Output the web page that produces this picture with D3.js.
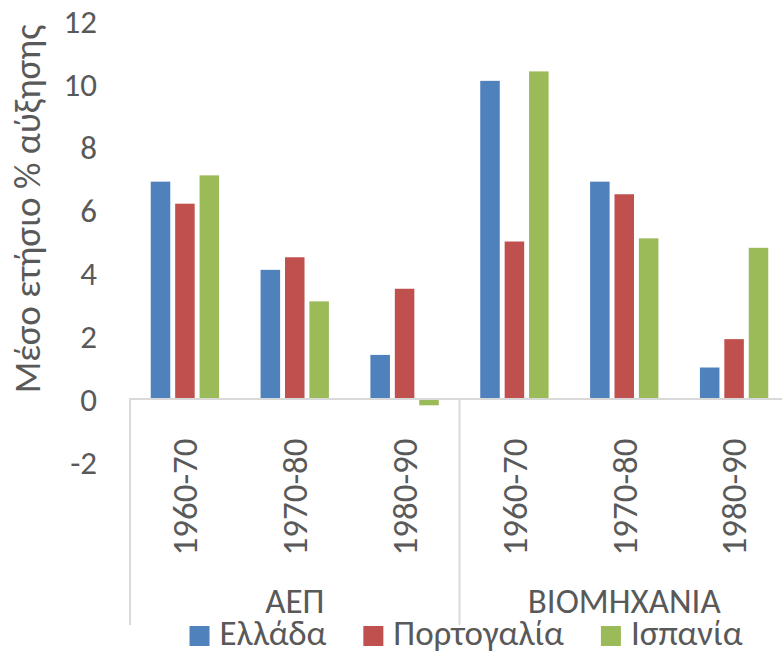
<!DOCTYPE html>
<html>
<head>
<meta charset="utf-8">
<script src="https://cdn.jsdelivr.net/npm/d3@7"></script>
<style>
  body { margin: 0; background: #fff; }
  svg text { font-family: Calibri, Carlito, "Open Sans", sans-serif; fill: #595959; }
</style>
</head>
<body>
<div id="chart"></div>
<script>
// data
var groups = ["ΑΕΠ", "ΒΙΟΜΗΧΑΝΙΑ"];
var periods = ["1960-70", "1970-80", "1980-90"];
var series = ["Ελλάδα", "Πορτογαλία", "Ισπανία"];
var greece   = [6.9, 4.1, 1.4, 10.1, 6.9, 1.0];
var portugal = [6.2, 4.5, 3.5, 5.0, 6.5, 1.9];
var spain    = [7.1, 3.1, -0.2, 10.4, 5.1, 4.8];
var yTicks = [-2, 0, 2, 4, 6, 8, 10, 12];
var colors = ["#4F81BD", "#C0504D", "#9BBB59"];

var width = 782, height = 651;

var svg = d3.select("#chart").append("svg")
    .attr("width", width)
    .attr("height", height);

// one slot per group/period pair
var cats = [];
groups.forEach(function(g) {
  periods.forEach(function(p) { cats.push(g + "|" + p); });
});
var values = [greece, portugal, spain];
var data = cats.map(function(c, i) {
  return { cat: c, vals: series.map(function(s, j) { return { s: s, v: values[j][i], c: colors[j] }; }) };
});

var x0 = d3.scaleBand().domain(cats).range([130, 789]).padding(0);
var x1 = d3.scaleBand().domain(series).range([0, x0.bandwidth()])
    .paddingInner(0.2).paddingOuter(0.85);
var y = d3.scaleLinear().domain([-2, 12]).range([462, 21]);

// bars
svg.append("g").selectAll("g")
    .data(data)
  .enter().append("g")
    .attr("transform", function(d) { return "translate(" + x0(d.cat) + ",0)"; })
  .selectAll("rect")
    .data(function(d) { return d.vals; })
  .enter().append("rect")
    .attr("x", function(d) { return x1(d.s); })
    .attr("width", x1.bandwidth())
    .attr("y", function(d) { return y(Math.max(0, d.v)); })
    .attr("height", function(d) { return Math.abs(y(d.v) - y(0)); })
    .attr("fill", function(d) { return d.c; });

// y axis labels, no line
var yAxis = svg.append("g")
    .attr("transform", "translate(97,0)")
    .call(d3.axisLeft(y).tickValues(yTicks).tickSize(0).tickPadding(0)
      .tickFormat(function(d) { return String(d); }));
yAxis.select(".domain").remove();
yAxis.selectAll("text")
    .style("font-size", "33px")
    .attr("fill", "#595959")
    .attr("dy", "0.36em");

// category axis frame
var y0 = y(0);
svg.append("line")
    .attr("x1", 129).attr("x2", width)
    .attr("y1", y0).attr("y2", y0)
    .attr("stroke", "#d9d9d9").attr("stroke-width", 2);
[0, 3].forEach(function(i) {
  var xx = x0(cats[i]);
  svg.append("line")
      .attr("x1", xx).attr("x2", xx)
      .attr("y1", y0).attr("y2", 625)
      .attr("stroke", "#d9d9d9").attr("stroke-width", 2);
});

// rotated period labels
svg.append("g").selectAll("text")
    .data(cats)
  .enter().append("text")
    .attr("transform", function(d) {
      return "translate(" + (x0(d) + x0.bandwidth() / 2) + ",497) rotate(-90)";
    })
    .attr("text-anchor", "middle")
    .attr("dy", "0.35em")
    .style("font-size", "35px")
    .text(function(d) { return d.split("|")[1]; });

// group labels
svg.append("g").selectAll("text")
    .data(groups)
  .enter().append("text")
    .attr("x", function(g, i) { return x0(cats[i * 3]) + x0.bandwidth() * 1.5; })
    .attr("y", 613)
    .attr("text-anchor", "middle")
    .style("font-size", "35px")
    .text(function(d) { return d; });

// y title
svg.append("text")
    .attr("transform", "translate(40,209) rotate(-90)")
    .attr("text-anchor", "middle")
    .style("font-size", "37px")
    .text("Μέσο ετήσιο % αύξησης");

// legend
var legend = svg.append("g");
var items = legend.selectAll("g")
    .data(series)
  .enter().append("g");
items.append("rect")
    .attr("width", 20).attr("height", 20)
    .attr("y", 626)
    .attr("fill", function(d, i) { return colors[i]; });
items.append("text")
    .attr("x", 30).attr("y", 645)
    .style("font-size", "35px")
    .text(function(d) { return d; });
var pos = 0;
items.each(function() {
  var w = 30 + this.querySelector("text").getComputedTextLength();
  d3.select(this).attr("data-x", pos);
  pos += w + 37;
});
var total = pos - 37;
var start = 466 - total / 2;
items.attr("transform", function() {
  return "translate(" + (start + +this.getAttribute("data-x")) + ",0)";
});
</script>
</body>
</html>
